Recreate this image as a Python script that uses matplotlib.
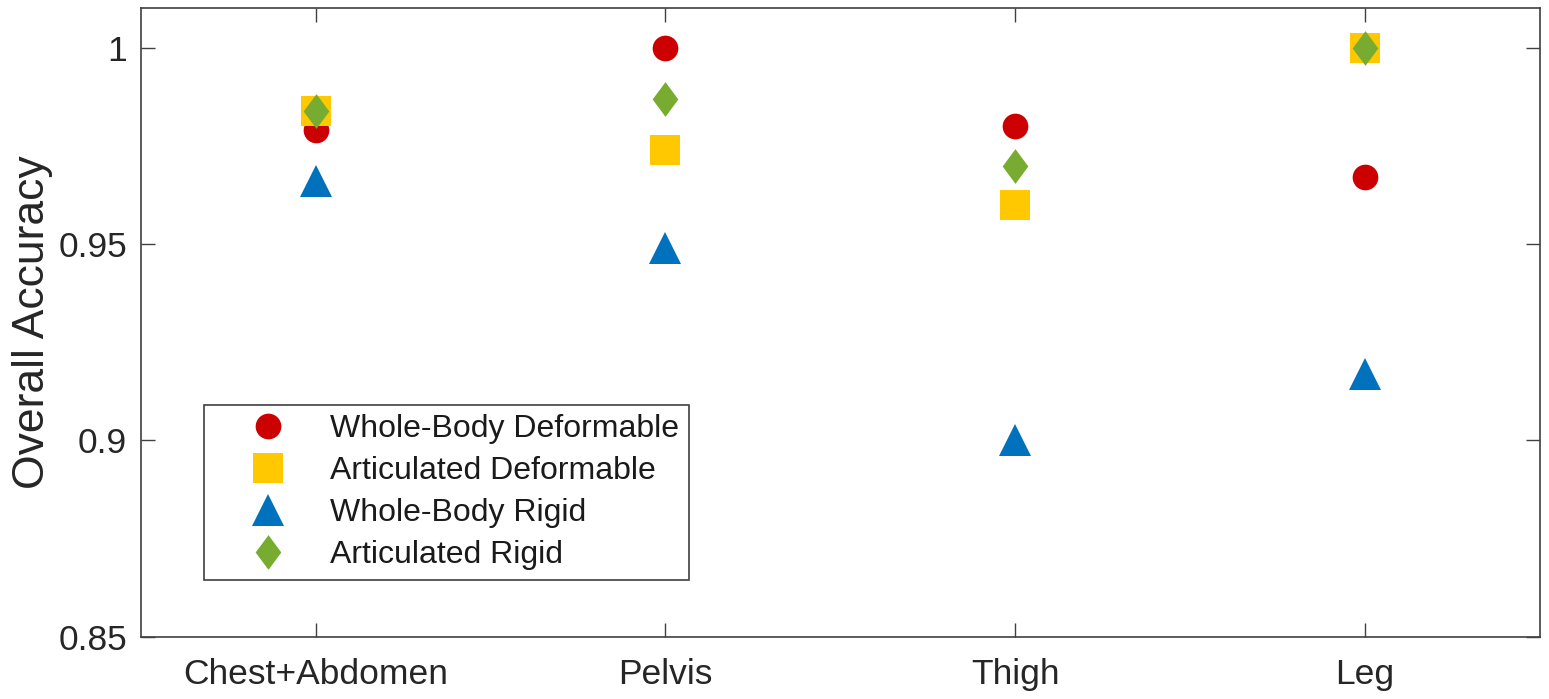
import matplotlib
matplotlib.use('Agg')
import matplotlib.pyplot as plt
import numpy as np

# Categorias e valores
categories = ['Chest+Abdomen', 'Pelvis', 'Thigh', 'Leg']
wb_deformable = [0.979, 1.000, 0.980, 0.967]
art_deformable = [0.984, 0.974, 0.960, 1.000]
wb_rigid = [0.966, 0.949, 0.900, 0.917]
art_rigid = [0.984, 0.987, 0.970, 1.000]
yticks = [0.85, 0.9, 0.95, 1]

plt.rc('font', family=['Liberation Sans', 'DejaVu Sans'])
fig, ax = plt.subplots(figsize=(15.49, 6.99), dpi=100)
fig.subplots_adjust(left=0.091, right=0.994, top=0.989, bottom=0.089)

# losango mais largo, como no MATLAB
diamante = [(0, 1), (0.74, 0), (0, -1), (-0.74, 0), (0, 1)]

x = np.arange(1, len(categories) + 1)
ax.plot(x, wb_deformable, 'o', color='#CC0000', markersize=18.5, markeredgewidth=0,
        label='Whole-Body Deformable')
ax.plot(x, art_deformable, 's', color='#FFC800', markersize=21, markeredgewidth=0,
        label='Articulated Deformable')
ax.plot(x, wb_rigid, '^', color='#0072BD', markersize=23, markeredgewidth=0,
        label='Whole-Body Rigid')
ax.plot(x, art_rigid, marker=diamante, linestyle='none', color='#77AC30',
        markersize=25, markeredgewidth=0, label='Articulated Rigid')

ax.set_xlim(0.5, 4.5)
ax.set_ylim(0.85, 1.0102)
ax.set_xticks(x)
ax.set_xticklabels(categories)
ax.set_yticks(yticks)
ax.set_yticklabels(['0.85', '0.9', '0.95', '1'])
ax.set_ylabel('Overall Accuracy', fontsize=32, color='#262626', labelpad=4)

ax.tick_params(direction='in', top=True, right=True, length=10, width=1,
               labelsize=25.5, colors='#404040', labelcolor='#262626', pad=10)
ax.tick_params(axis='x', pad=15)
for s in ax.spines.values():
    s.set_color('#404040')
    s.set_linewidth(1.2)

leg = ax.legend(loc='lower left', bbox_to_anchor=(0.045, 0.091), fontsize=23,
                frameon=True, fancybox=False, edgecolor='#404040', framealpha=1,
                handletextpad=0.25, labelspacing=0.37, borderpad=0.3,
                handlelength=3.4, borderaxespad=0, numpoints=1)
leg.get_frame().set_linewidth(1.2)
for t in leg.get_texts():
    t.set_color('#1a1a1a')

fig.savefig('out.png', dpi=100)
